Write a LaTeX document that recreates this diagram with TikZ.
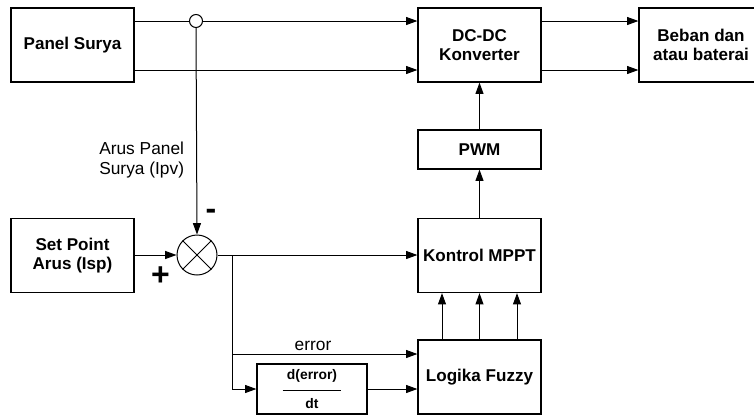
\documentclass[tikz,border=0pt]{standalone}
\usepackage{fontspec}
\setmainfont{Liberation Sans}
\usetikzlibrary{arrows.meta}

\begin{document}
\begin{tikzpicture}[x=0.75pt,y=-0.75pt,line width=0.75pt,
  blok/.style={draw, line width=0.9pt, font=\fontsize{12.8}{14.6}\selectfont\bfseries, align=center, inner sep=0pt, minimum width=92.25pt, minimum height=55.5pt},
  teks/.style={font=\fontsize{13}{14.3}\selectfont},
  tanda/.style={font=\fontsize{24}{24}\selectfont\bfseries, inner sep=0pt},
  >={Triangle[length=8.5pt,width=6pt]}]
\useasboundingbox (0,0) rectangle (754,415);

% blok utama
\node[blok] (panel) at (72.5,45) {Panel Surya};
\node[blok] (dcdc) at (479.5,45) {DC-DC\\Konverter};
\node[blok, minimum width=93pt] (beban) at (701,45) {Beban dan\\atau baterai};
\node[blok, minimum height=29.25pt] (pwm) at (479.5,149.5) {PWM};
\node[blok] (mppt) at (479.5,255.5) {Kontrol MPPT};
\node[blok] (fuzzy) at (479.5,377) {Logika Fuzzy};
\node[blok] (setpoint) at (72.5,255.5) {Set Point\\Arus (Isp)};
\node[draw, line width=0.9pt, inner sep=0pt, minimum width=82.5pt, minimum height=37.5pt, align=center,
  font=\fontsize{10.4}{12}\selectfont\bfseries] (deriv) at (312,389) {d(error)\\[-3pt]\rule{44pt}{0.9pt}\\[1pt]dt};

% titik cabang dan penjumlah
\node[circle, draw, fill=white, inner sep=0pt, minimum size=9.75pt] (jn) at (196,21) {};
\node[circle, draw, inner sep=0pt, minimum size=30pt] (sum) at (197,255) {};
\draw (sum.north west) -- (sum.south east);
\draw (sum.north east) -- (sum.south west);

\coordinate (atas) at (0,21);
\coordinate (bawah) at (0,70);
\coordinate (cab) at (232,255);
\coordinate (err) at (0,354);

% sambungan
\draw (panel.east |- atas) -- (jn.west);
\draw[->] (jn.east) -- (dcdc.west |- atas);
\draw[->] (panel.east |- bawah) -- (dcdc.west |- bawah);
\draw[->] (dcdc.east |- atas) -- (beban.west |- atas);
\draw[->] (dcdc.east |- bawah) -- (beban.west |- bawah);
\draw[->] (jn.south) -- (sum.north);
\draw[->] (setpoint.east |- sum) -- (sum.west);
\draw[->] (sum.east) -- (mppt.west |- sum.east);
\draw[->] (cab) |- (fuzzy.west |- err);
\draw[->] (cab) |- (deriv.west);
\draw[->] (deriv.east) -- (fuzzy.west |- deriv.east);
\foreach \k in {442,479.5,517}
  \draw[->] (fuzzy.north -| \k,0) -- (mppt.south -| \k,0);
\draw[->] (mppt.north) -- (pwm.south);
\draw[->] (pwm.north) -- (dcdc.south);

% label
\node[teks, anchor=east, align=right] (lblipv) at (189,160) {Arus Panel\\Surya (Ipv)};
\node[teks] (lblerr) at (313,346) {error};
\node[tanda] (minus) at (211,214) {-};
\node[tanda] (plus) at (160.5,276) {+};
\end{tikzpicture}
\end{document}
